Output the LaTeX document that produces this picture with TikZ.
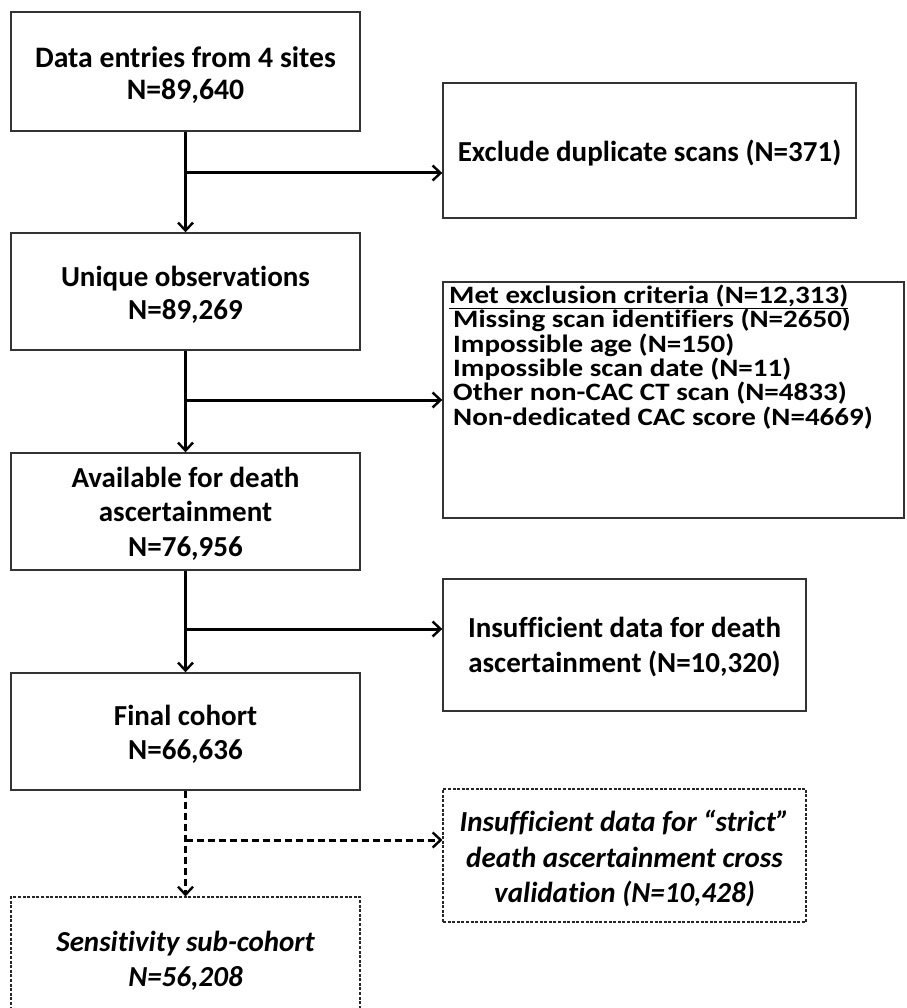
\documentclass[tikz,border=0pt]{standalone}
\usepackage{fontspec}
\setmainfont{Carlito}[Ligatures={NoCommon,NoContextual}]
\newfontfamily\widefont{Carlito}[FakeStretch=1.16, Ligatures={NoCommon,NoContextual}]
\usetikzlibrary{arrows.meta}
\newcommand{\tightlines}{\lineskiplimit-100pt\relax}
\newcommand{\bxfont}[2]{\bfseries\fontsize{#1}{#2}\selectfont\tightlines}
\newcommand{\itfont}[2]{\bfseries\itshape\fontsize{#1}{#2}\selectfont\tightlines}
\begin{document}
\begin{tikzpicture}[x=1pt,y=-1pt,
  solidbox/.style={draw=black!80, line width=1.4pt, rectangle, inner sep=0pt},
  dashbox/.style={draw=black!85, line width=1.1pt, dash pattern=on 3pt off 1.6pt, rectangle, inner sep=0pt},
  boxtext/.style={align=center, inner sep=0pt, font={\bxfont{29}{#1}}},
  boxtext/.default=34,
  itext/.style={align=center, inner sep=0pt, font={\itfont{29}{#1}}},
  itext/.default=35,
  arr/.style={line width=3pt, -{Straight Barb[length=8pt,width=15pt,line width=2.4pt]}},
  darr/.style={arr, dash pattern=on 7pt off 4pt}]
\path[use as bounding box, clip] (0,0) rectangle (906,1008);
\fill[white] (0,0) rectangle (906,1008);

% main column boxes
\node[solidbox, minimum width=349pt, minimum height=119pt] (b1) at (185.5,71.5) {};
\node[align=center, inner sep=0pt, font={\bxfont{29.7}{32}}] (t1) at (185.5,75) {Data entries from 4 sites\\N=89,640};

\node[solidbox, minimum width=349pt, minimum height=117pt] (b2) at (185.5,291.5) {};
\node[boxtext=33] (t2) at (185.5,294.5) {Unique observations\\N=89,269};

\node[solidbox, minimum width=349pt, minimum height=117pt] (b3) at (185.5,511.5) {};
\node[boxtext=34.5] (t3) at (185.5,513.5) {Available for death\\ascertainment\\N=76,956};

\node[solidbox, minimum width=349pt, minimum height=117pt] (b4) at (185.5,731.5) {};
\node[boxtext=34] (t4) at (185.5,734) {Final cohort\\N=66,636};

\node[dashbox, minimum width=349pt, minimum height=140pt] (b5) at (185.5,967) {};
\node[itext=35] (t5) at (185.5,960.5) {Sensitivity sub-cohort\\N=56,208};

% side boxes
\node[solidbox, minimum width=413pt, minimum height=135pt] (dup) at (649.5,150.5) {};
\node[boxtext] (tdup) at (649.5,153) {Exclude duplicate scans (N=371)};

\node[solidbox, minimum width=461pt, minimum height=236pt] (excl) at (673.5,400) {};
\node[anchor=west, align=left, inner sep=0pt, font={\widefont\bfseries\fontsize{25}{24.4}\selectfont\tightlines}] (texcl) at (449,357)
 {\underline{Met exclusion criteria (N=12,313)}\\
  \hspace*{4pt}Missing scan identifiers (N=2650)\\
  \hspace*{4pt}Impossible age (N=150)\\
  \hspace*{4pt}Impossible scan date (N=11)\\
  \hspace*{4pt}Other non-CAC CT scan (N=4833)\\
  \hspace*{4pt}Non-dedicated CAC score (N=4669)};

\node[solidbox, minimum width=363pt, minimum height=132pt] (ins) at (624.5,645) {};
\node[boxtext=35] (tins) at (624.5,647.5) {Insufficient data for death\\ascertainment (N=10,320)};

\node[dashbox, minimum width=363pt, minimum height=133pt] (strict) at (624.5,855.5) {};
\node[itext=35.5] (tstrict) at (624.5,858.5) {Insufficient data for “strict”\\death ascertainment cross\\validation (N=10,428)};

% junctions
\coordinate (j1) at (185.5,173);
\coordinate (j2) at (185.5,400);
\coordinate (j3) at (185.5,629);
\coordinate (j4) at (185.5,840);

% connectors
\draw[arr] (b1.south) -- (b2.north);
\draw[arr] (j1) -- (j1 -| dup.west);
\draw[arr] (b2.south) -- (b3.north);
\draw[arr] (j2) -- (j2 -| excl.west);
\draw[arr] (b3.south) -- (b4.north);
\draw[arr] (j3) -- (j3 -| ins.west);
\draw[darr] (b4.south) -- (b5.north);
\draw[darr] (j4) -- (j4 -| strict.west);
\end{tikzpicture}
\end{document}
